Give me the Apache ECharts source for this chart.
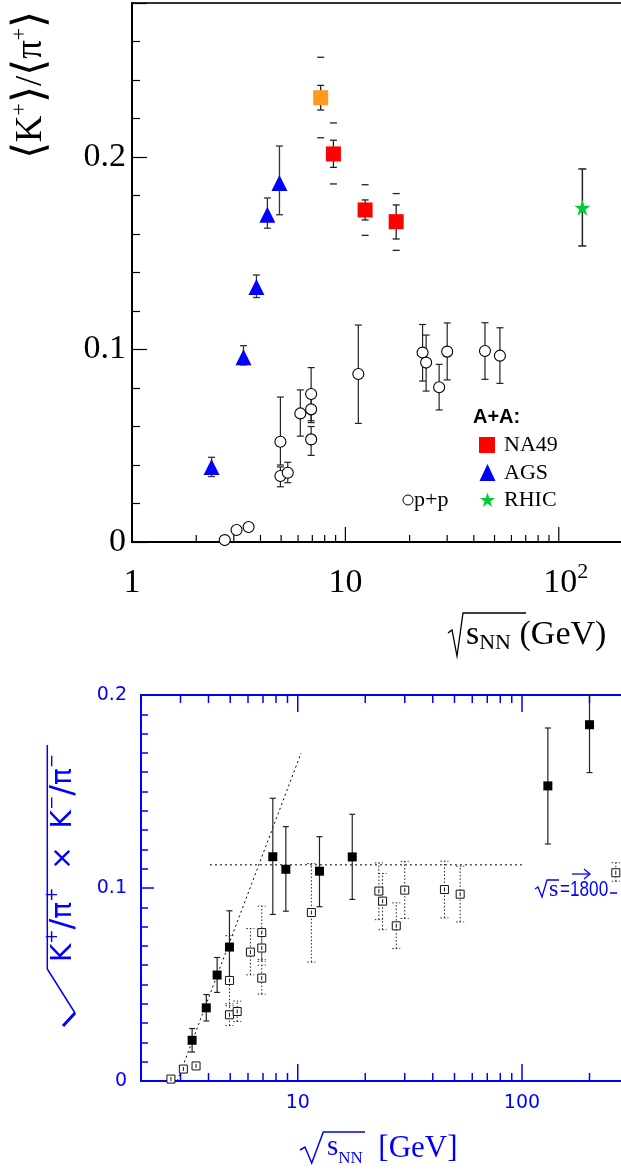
<!DOCTYPE html>
<html><head><meta charset="utf-8">
<script src="https://cdn.jsdelivr.net/npm/echarts@6/dist/echarts.min.js"></script>
<style>html,body{margin:0;padding:0;background:#fff}#c{width:621px;height:1171px}</style>
</head><body><div id="c"></div>
<script>
// ================= TOP PANEL DATA  (<K+>/<pi+> vs sqrt(s_NN)) =================
const agsX  = [2.36, 3.33, 3.83, 4.31, 4.91];
const agsY  = [0.039, 0.096, 0.1325, 0.170, 0.1865];
const agsLo = [0.034, 0.092, 0.127, 0.163, 0.170];
const agsHi = [0.044, 0.102, 0.1387, 0.1787, 0.2057];

const na49PrelX = [7.66];
const na49PrelY = [0.2308];
const na49PrelStatLo = [0.2244];
const na49PrelStatHi = [0.2372];
const na49PrelSysLo = [0.210];
const na49PrelSysHi = [0.2518];

const na49X = [8.79, 12.37, 17.3];
const na49Y = [0.2016, 0.1725, 0.1664];
const na49StatLo = [0.1946, 0.1673, 0.1574];
const na49StatHi = [0.2087, 0.1777, 0.1751];
const na49SysLo = [0.186, 0.1593, 0.1515];
const na49SysHi = [0.2177, 0.1856, 0.181];

const rhicX  = [129];
const rhicY  = [0.1737];
const rhicLo = [0.1538];
const rhicHi = [0.1938];

// p+p (shared by both panels)
const ppX  = [2.72, 3.09, 3.52, 4.96, 4.96, 5.37, 6.15, 6.91, 6.91, 6.91, 11.5, 23.0, 23.9, 27.5, 30.0, 45.1, 53.0];
const ppY  = [0.001, 0.0062, 0.0078, 0.0521, 0.0343, 0.036, 0.0668, 0.0769, 0.0689, 0.0533, 0.0873, 0.0984, 0.0932, 0.0804, 0.0989, 0.0992, 0.0968];
const ppLo = [0.001, 0.0062, 0.0078, 0.040, 0.0287, 0.0308, 0.055, 0.063, 0.062, 0.045, 0.0616, 0.0836, 0.0784, 0.0686, 0.0842, 0.0845, 0.0824];
const ppHi = [0.001, 0.0062, 0.0078, 0.0753, 0.039, 0.0414, 0.079, 0.0906, 0.075, 0.060, 0.1127, 0.113, 0.1075, 0.0923, 0.1138, 0.1139, 0.1113];

// ================= BOTTOM PANEL DATA  (sqrt(K+/pi+ x K-/pi-)) =================
const aaX  = [3.38, 3.91, 4.37, 4.96, 7.74, 8.85, 12.5, 17.5, 130.4, 200];
const aaY  = [0.0211, 0.0379, 0.0549, 0.0694, 0.1162, 0.1097, 0.1087, 0.1161, 0.1529, 0.1846];
const aaLo = [0.015, 0.0311, 0.0459, 0.052, 0.0863, 0.088, 0.0903, 0.0941, 0.1228, 0.1598];
const aaHi = [0.0272, 0.0448, 0.064, 0.0882, 0.1465, 0.1318, 0.1266, 0.1382, 0.1829, 0.2];

// p+pbar at sqrt(s)=1800, drawn at the right edge (off-scale marker)
const tevX  = [262];
const tevY  = [0.1079];
const tevLo = [0.1035];
const tevHi = [0.1131];

// guide lines
const plateauX = [4.06, 100];
const plateauY = [0.112, 0.112];
const riseX = [2.9, 10.35];
const riseY = [0, 0.170];

// axis ticks
const topMajorTicks = [10, 100];
const topMinorTicks = [2, 3, 4, 5, 6, 7, 8, 9, 20, 30, 40, 50, 60, 70, 80, 90];
const botMajorTicks = [10, 100];
const botMinorTicks = [3, 4, 5, 6, 7, 8, 9, 20, 30, 40, 50, 60, 70, 80, 90, 200];

// ================================================================
const SERIF = '"Liberation Serif","Times New Roman",serif';
const SANS = '"DejaVu Sans",sans-serif';
const BLUE = '#0000ff';
const STAR = 'path://M50,0L61.2,34.5L97.6,34.5L68.2,55.9L79.4,90.5L50,69.1L20.6,90.5L31.8,55.9L2.4,34.5L38.8,34.5Z';

const zip = (xs, ys, lo, hi) => xs.map((x, i) => [x, ys[i], lo ? lo[i] : ys[i], hi ? hi[i] : ys[i]]);
const isPow10 = v => Math.abs(Math.log10(v) - Math.round(Math.log10(v))) < 1e-6;
function starPoints(cx, cy, R) {
  const pts = [];
  for (let i = 0; i < 10; i++) {
    const r = i % 2 === 0 ? R : R * 0.382;
    const a = -Math.PI / 2 + i * Math.PI / 5;
    pts.push([cx + r * Math.cos(a), cy + r * Math.sin(a)]);
  }
  return pts;
}

function errSeries(data, xi, yi, o) {
  return {
    type: 'custom', xAxisIndex: xi, yAxisIndex: yi, silent: true, z: o.z || 2, data: data,
    renderItem: (p, api) => {
      const x = api.value(0), lo = api.value(2), hi = api.value(3);
      const a = api.coord([x, lo]), b = api.coord([x, hi]);
      const st = { stroke: o.color, lineWidth: o.lw, lineDash: o.dash || null, fill: null };
      const ch = [];
      if (o.stem !== false && lo !== hi) ch.push({ type: 'line', shape: { x1: a[0], y1: a[1], x2: b[0], y2: b[1] }, style: st });
      if (o.cap && lo !== hi) {
        ch.push({ type: 'line', shape: { x1: a[0] - o.cap, y1: a[1], x2: a[0] + o.cap, y2: a[1] }, style: st });
        ch.push({ type: 'line', shape: { x1: b[0] - o.cap, y1: b[1], x2: b[0] + o.cap, y2: b[1] }, style: st });
      }
      return { type: 'group', children: ch };
    }
  };
}
function tickSeries(vals, yVal, len, dir, color, lw, xi, yi) {
  return {
    type: 'custom', xAxisIndex: xi, yAxisIndex: yi, silent: true, z: 6,
    data: vals.map(v => [v, yVal]),
    renderItem: (p, api) => {
      const c = api.coord([api.value(0), api.value(1)]);
      return { type: 'line', shape: { x1: c[0], y1: c[1], x2: c[0], y2: c[1] + dir * len }, style: { stroke: color, lineWidth: lw } };
    }
  };
}
function scatter(data, xi, yi, symbol, size, item, z) {
  return { type: 'scatter', xAxisIndex: xi, yAxisIndex: yi, data: data, symbol: symbol, symbolSize: size,
    itemStyle: Object.assign({ opacity: 1 }, item), z: z || 4, emphasis: { disabled: true }, silent: true };
}

const chart = echarts.init(document.getElementById('c'), null, { renderer: 'canvas' });

const option = {
  animation: false,
  backgroundColor: '#fff',
  grid: [
    { left: 132, top: 3, width: 491, height: 539, show: true, borderColor: '#333', borderWidth: 2, containLabel: false, outerBoundsMode: 'none' },
    { left: 141, top: 695, width: 488, height: 386, containLabel: false, outerBoundsMode: 'none' }
  ],
  xAxis: [
    { gridIndex: 0, type: 'log', logBase: 10, min: 1, max: 200,
      axisLine: { show: true, lineStyle: { color: '#000', width: 2 } },
      axisTick: { show: false }, minorTick: { show: false }, splitLine: { show: false },
      axisLabel: { margin: 19, fontFamily: SERIF, fontSize: 34, color: '#000', lineHeight: 44,
        showMinLabel: true, showMaxLabel: false, hideOverlap: false,
        formatter: v => { if (!isPow10(v)) return ''; const r = Math.round(v); return r === 100 ? '{b|10}{s|2}' : String(r); },
        rich: { b: { fontFamily: SERIF, fontSize: 34, lineHeight: 44, color: '#000', padding: [0, 0, 0, 14] },
                s: { fontFamily: SERIF, fontSize: 22, lineHeight: 10, color: '#000', verticalAlign: 'top' } } } },
    { gridIndex: 1, type: 'log', logBase: 10, min: 2, max: 300,
      axisLine: { show: true, lineStyle: { color: BLUE, width: 2 } },
      axisTick: { show: false }, minorTick: { show: false }, splitLine: { show: false },
      axisLabel: { margin: 13, fontFamily: SANS, fontSize: 19, color: BLUE, hideOverlap: false,
        formatter: v => isPow10(v) ? String(Math.round(v)) : '' } },
    { gridIndex: 1, type: 'log', logBase: 10, min: 2, max: 300, position: 'top',
      axisLine: { show: true, lineStyle: { color: BLUE, width: 2 } },
      axisTick: { show: false }, minorTick: { show: false }, splitLine: { show: false }, axisLabel: { show: false } }
  ],
  yAxis: [
    { gridIndex: 0, type: 'value', min: 0, max: 0.28, interval: 0.1,
      axisLine: { show: true, lineStyle: { color: '#000', width: 2 } },
      axisTick: { show: true, inside: true, length: 15, lineStyle: { color: '#000', width: 1.2 } },
      minorTick: { show: true, splitNumber: 5, length: 8, lineStyle: { color: '#000', width: 1.2 } },
      splitLine: { show: false }, minorSplitLine: { show: false },
      axisLabel: { margin: 6, fontFamily: SERIF, fontSize: 34, color: '#000', showMaxLabel: false, hideOverlap: false,
        formatter: v => v === 0 ? '0' : v.toFixed(1) } },
    { gridIndex: 1, type: 'value', min: 0, max: 0.2, interval: 0.1,
      axisLine: { show: true, lineStyle: { color: BLUE, width: 2 } },
      axisTick: { show: true, inside: true, length: 13, lineStyle: { color: BLUE, width: 1.5 } },
      minorTick: { show: true, splitNumber: 10, length: 7, lineStyle: { color: BLUE, width: 1.5 } },
      splitLine: { show: false }, minorSplitLine: { show: false },
      axisLabel: { margin: 14, fontFamily: SANS, fontSize: 19, color: BLUE, hideOverlap: false,
        formatter: v => v === 0 ? '0' : v.toFixed(1) } }
  ],
  series: [
    // ---- top panel ----
    tickSeries(topMinorTicks, 0, 7, -1, '#000', 1.2, 0, 0),
    tickSeries(topMajorTicks, 0, 15, -1, '#000', 1.2, 0, 0),
    errSeries(zip(ppX, ppY, ppLo, ppHi), 0, 0, { color: '#222', lw: 1.2, cap: 3.5 }),
    errSeries(zip(agsX, agsY, agsLo, agsHi), 0, 0, { color: '#333', lw: 1.3, cap: 3.5 }),
    errSeries(zip(na49PrelX, na49PrelY, na49PrelStatLo, na49PrelStatHi), 0, 0, { color: '#222', lw: 1.3, cap: 3.5 }),
    errSeries(zip(na49X, na49Y, na49StatLo, na49StatHi), 0, 0, { color: '#222', lw: 1.3, cap: 3.5 }),
    errSeries(zip(na49PrelX, na49PrelY, na49PrelSysLo, na49PrelSysHi), 0, 0, { color: '#222', lw: 1.3, cap: 3.5, stem: false }),
    errSeries(zip(na49X, na49Y, na49SysLo, na49SysHi), 0, 0, { color: '#222', lw: 1.3, cap: 3.5, stem: false }),
    errSeries(zip(rhicX, rhicY, rhicLo, rhicHi), 0, 0, { color: '#222', lw: 1.5, cap: 4 }),
    scatter(zip(ppX, ppY), 0, 0, 'circle', 11, { color: '#fff', borderColor: '#000', borderWidth: 1.1 }),
    scatter(zip(agsX, agsY), 0, 0, 'triangle', [16, 16], { color: BLUE }),
    scatter(zip(na49X, na49Y), 0, 0, 'rect', 15, { color: '#ff0000' }),
    scatter(zip(na49PrelX, na49PrelY), 0, 0, 'rect', 15, { color: '#ff9a1e' }),
    scatter(zip(rhicX, rhicY), 0, 0, STAR, 16, { color: '#00cc33' }),

    // ---- bottom panel ----
    tickSeries(botMinorTicks, 0, 8, -1, BLUE, 1.5, 1, 1),
    tickSeries(botMajorTicks, 0, 17, -1, BLUE, 1.5, 1, 1),
    tickSeries(botMinorTicks, 0.2, 8, 1, BLUE, 1.5, 1, 1),
    tickSeries(botMajorTicks, 0.2, 17, 1, BLUE, 1.5, 1, 1),
    { type: 'line', xAxisIndex: 1, yAxisIndex: 1, data: zip(plateauX, plateauY).map(d => [d[0], d[1]]), symbol: 'none', silent: true, z: 1,
      lineStyle: { color: '#000', width: 1, type: [2, 3] } },
    { type: 'line', xAxisIndex: 1, yAxisIndex: 1, data: zip(riseX, riseY).map(d => [d[0], d[1]]), symbol: 'none', silent: true, z: 1,
      lineStyle: { color: '#000', width: 1, type: [2, 3] } },
    errSeries(zip(ppX, ppY, ppLo, ppHi), 1, 1, { color: '#222', lw: 1, cap: 4, dash: [1.5, 2] }),
    errSeries(zip(tevX, tevY, tevLo, tevHi), 1, 1, { color: '#222', lw: 1, cap: 4, dash: [1.5, 2] }),
    errSeries(zip(aaX, aaY, aaLo, aaHi), 1, 1, { color: '#222', lw: 1.2, cap: 3 }),
    scatter(zip(ppX, ppY), 1, 1, 'rect', 8, { color: '#fff', borderColor: '#111', borderWidth: 1 }),
    scatter(zip(tevX, tevY), 1, 1, 'rect', 8, { color: '#fff', borderColor: '#111', borderWidth: 1 }),
    { type: 'custom', xAxisIndex: 1, yAxisIndex: 1, silent: true, z: 5, data: zip(ppX, ppY).concat(zip(tevX, tevY)),
      renderItem: (p, api) => { const c = api.coord([api.value(0), api.value(1)]);
        return { type: 'line', shape: { x1: c[0], y1: c[1] - 2, x2: c[0], y2: c[1] + 2 }, style: { stroke: '#111', lineWidth: 1 } }; } },
    scatter(zip(aaX, aaY), 1, 1, 'rect', 9, { color: '#000' })
  ],
  graphic: [
    // top y title
    { type: 'text', x: 31, y: 85, rotation: Math.PI / 2, silent: true,
      style: { text: '{br|⟨}{a|K}{p|+}{br|⟩}{a|/}{br|⟨}{a|π}{p|+}{br|⟩}', align: 'center', verticalAlign: 'middle',
        rich: { a: { fontFamily: SERIF, fontSize: 37, lineHeight: 44, fill: '#000' },
                br: { fontFamily: SERIF, fontSize: 44, lineHeight: 44, fill: '#000' },
                p: { fontFamily: SERIF, fontSize: 22, lineHeight: 10, verticalAlign: 'top', fill: '#000' } } } },
    // top x title
    { type: 'polyline', silent: true, shape: { points: [[448, 633], [452, 630], [457, 656], [463, 613], [526, 613]] },
      style: { stroke: '#000', lineWidth: 1.3, fill: null } },
    { type: 'text', x: 466, y: 636, silent: true,
      style: { text: '{s|s}{n|NN}{g| (GeV)}', align: 'left', verticalAlign: 'middle',
        rich: { s: { fontFamily: SERIF, fontSize: 34, lineHeight: 36, verticalAlign: 'top', fill: '#000' },
                n: { fontFamily: SERIF, fontSize: 22, lineHeight: 8, verticalAlign: 'bottom', fill: '#000' },
                g: { fontFamily: SERIF, fontSize: 34, lineHeight: 36, verticalAlign: 'top', fill: '#000' } } } },
    // legend
    { type: 'text', x: 473, y: 417, silent: true, style: { text: 'A+A:', font: 'bold 20px "Liberation Sans",Arial,sans-serif', fill: '#000', verticalAlign: 'middle' } },
    { type: 'rect', silent: true, shape: { x: 479, y: 437, width: 16, height: 16 }, style: { fill: '#ff0000' } },
    { type: 'text', x: 504, y: 445, silent: true, style: { text: 'NA49', font: '22px ' + SERIF, fill: '#000', verticalAlign: 'middle' } },
    { type: 'polygon', silent: true, shape: { points: [[487.5, 464], [495.5, 481], [479.5, 481]] }, style: { fill: BLUE } },
    { type: 'text', x: 504, y: 473, silent: true, style: { text: 'AGS', font: '22px ' + SERIF, fill: '#000', verticalAlign: 'middle' } },
    { type: 'polygon', silent: true, shape: { points: starPoints(487.5, 500.5, 8) }, style: { fill: '#00cc33' } },
    { type: 'text', x: 504, y: 500, silent: true, style: { text: 'RHIC', font: '22px ' + SERIF, fill: '#000', verticalAlign: 'middle' } },
    { type: 'circle', silent: true, shape: { cx: 408, cy: 500, r: 5 }, style: { fill: '#fff', stroke: '#000', lineWidth: 1 } },
    { type: 'text', x: 414, y: 500, silent: true, style: { text: 'p+p', font: '22px ' + SERIF, fill: '#000', verticalAlign: 'middle' } },

    // bottom y title
    { type: 'polyline', silent: true, shape: { points: [[47.3, 745], [47.3, 969], [75, 1013]] }, style: { stroke: BLUE, lineWidth: 1.5, fill: null } },
    { type: 'polyline', silent: true, shape: { points: [[75, 1013], [63, 1026]] }, style: { stroke: BLUE, lineWidth: 3, fill: null } },
    { type: 'text', x: 64, y: 858, rotation: Math.PI / 2, silent: true,
      style: { text: '{k|K}{p|+}{sl|/}{k|π}{p|+}{k|  ×  K}{p|−}{sl|/}{k|π}{p|−}', align: 'center', verticalAlign: 'middle',
        rich: { k: { fontFamily: SANS, fontSize: 28, lineHeight: 40, fill: BLUE },
                p: { fontFamily: SANS, fontSize: 17, lineHeight: 28, verticalAlign: 'top', fill: BLUE },
                sl: { fontFamily: SANS, fontSize: 32, lineHeight: 40, fill: BLUE } } } },
    // bottom x title
    { type: 'polyline', silent: true, shape: { points: [[300, 1150], [305, 1147], [311.7, 1163], [323.3, 1132], [365, 1132]] },
      style: { stroke: BLUE, lineWidth: 1.5, fill: null } },
    { type: 'text', x: 327, y: 1150, silent: true,
      style: { text: '{s|s}{n|NN}{g|  [GeV]}', align: 'left', verticalAlign: 'middle',
        rich: { s: { fontFamily: SERIF, fontSize: 29, lineHeight: 34, verticalAlign: 'top', fill: BLUE },
                n: { fontFamily: SERIF, fontSize: 17, lineHeight: 12, verticalAlign: 'bottom', fill: BLUE },
                g: { fontFamily: SERIF, fontSize: 31, lineHeight: 34, verticalAlign: 'top', fill: BLUE } } } },
    // sqrt(s)=1800 annotation
    { type: 'polyline', silent: true, shape: { points: [[535, 889], [538, 887], [542, 897], [547, 880], [559, 880]] }, style: { stroke: BLUE, lineWidth: 1.3, fill: null } },
    { type: 'text', x: 549, y: 890, silent: true, style: { text: 's', font: '24px ' + SERIF, fill: BLUE, verticalAlign: 'middle' } },
    { type: 'text', x: 560, y: 890, scaleX: 0.78, silent: true, style: { text: '=1800', font: '22px "Liberation Sans",Arial,sans-serif', fill: BLUE, verticalAlign: 'middle' } },
    { type: 'polyline', silent: true, shape: { points: [[572, 874], [590, 874]] }, style: { stroke: BLUE, lineWidth: 1.3, fill: null } },
    { type: 'polyline', silent: true, shape: { points: [[584, 869], [590, 874], [584, 879]] }, style: { stroke: BLUE, lineWidth: 1.3, fill: null } },
    { type: 'polyline', silent: true, shape: { points: [[610, 893], [617, 893]] }, style: { stroke: BLUE, lineWidth: 1.5, fill: null } }
  ]
};
chart.setOption(option);
</script>
</body></html>
